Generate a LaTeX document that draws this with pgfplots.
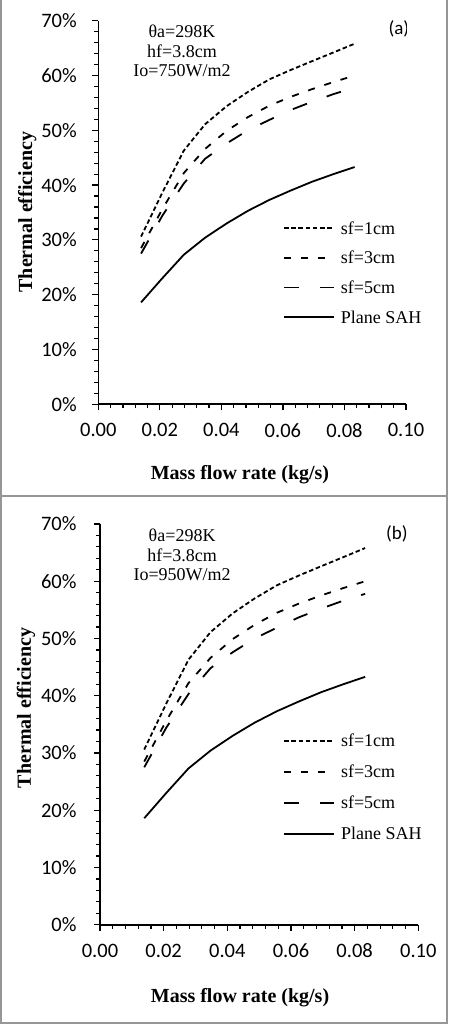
\documentclass[border=0pt]{standalone}
\usepackage{pgfplots}
\usepackage{pgfplotstable}
\pgfplotsset{compat=1.18}
\usepackage{fontspec}
\setmainfont{Liberation Serif}
\newfontfamily\calibri{Carlito}

\definecolor{framegray}{RGB}{150,150,150}

% thermal efficiency (%) against mass flow rate (kg/s)
\pgfplotstableread{
m eff
0.0139 30.6
0.0208 38.6
0.0278 46.3
0.0347 51.1
0.0417 54.4
0.0486 57.0
0.0556 59.3
0.0625 61.0
0.0694 62.6
0.0764 64.2
0.0833 65.8
}\sfone
\pgfplotstableread{
m eff
0.0139 28.5
0.0208 35.6
0.0278 42.2
0.0347 46.6
0.0417 49.9
0.0486 52.4
0.0556 54.5
0.0625 56.1
0.0694 57.5
0.0764 58.8
0.0833 60.0
}\sfthree
\pgfplotstableread{
m eff
0.0139 27.5
0.0208 34.4
0.0278 40.3
0.0347 44.8
0.0417 47.6
0.0486 50.0
0.0556 51.9
0.0625 53.7
0.0694 55.2
0.0764 56.6
0.0833 57.8
}\sffive
\pgfplotstableread{
m eff
0.0139 18.6
0.0208 23.0
0.0278 27.3
0.0347 30.4
0.0417 33.0
0.0486 35.3
0.0556 37.3
0.0625 39.0
0.0694 40.6
0.0764 42.0
0.0833 43.3
}\plane

\pgfplotsset{
  panel/.style={
    scale only axis,
    anchor=south west,
    xmin=0, xmax=0.1, ymin=0, ymax=70,
    axis lines=left,
    axis line style={-, line width=1.6pt},
    xtick={0,0.02,0.04,0.06,0.08,0.1},
    ytick={0,10,20,30,40,50,60,70},
    minor x tick num=4, minor y tick num=4,
    tick align=outside,
    major tick length=6pt, minor tick length=4pt,
    tick style={black, line width=1.2pt},
    /pgf/number format/assume math mode=true,
    xticklabel style={/pgf/number format/fixed, /pgf/number format/fixed zerofill,
      /pgf/number format/precision=2},
    yticklabel={\pgfmathprintnumber{\tick}\%},
    tick label style={font=\calibri\fontsize{20.5}{20.5}\selectfont},
    xlabel={Mass flow rate (kg/s)},
    ylabel={Thermal efficiency},
    legend cell align=left,
    legend image code/.code={\draw[#1] (0pt,0pt) -- (50pt,0pt);},
    legend style={draw=none, fill=none, inner sep=0pt, anchor=north west,
      font=\fontsize{18}{18}\selectfont, column sep=6pt,
      nodes={inner sep=0pt, text height=12pt, text depth=0pt}},
  },
  sfa/.style={black, line width=1.8pt, dash pattern=on 4.5pt off 2.7pt},
  sfb/.style={black, line width=1.8pt, dash pattern=on 7pt off 10pt},
  sfc/.style={black, line width=1.8pt, dash pattern=on 15pt off 21pt},
  sah/.style={black, line width=1.8pt, line join=round},
}

\begin{document}
\begin{tikzpicture}[x=1pt,y=1pt]
\useasboundingbox (0,0) rectangle (450,1028);
\draw[framegray, line width=1.5pt] (1,1028) -- (1,5) -- (447,5) -- (447,1028);
\draw[framegray, line width=1.5pt] (1,532) -- (447,532);

% (a) Io = 750 W/m2
\begin{axis}[panel,
  at={(98.3pt,623.7pt)}, width=307.7pt, height=383.6pt,
  xticklabel style={anchor=center, yshift=-20pt},
  yticklabel style={anchor=east, xshift=-12pt},
  every axis x label/.style={at={([yshift=-70.7pt]axis description cs:0.4605,0)},
    anchor=center, font=\bfseries\fontsize{20}{20}\selectfont},
  every axis y label/.style={at={([xshift=-71pt]axis description cs:0,0.501)},
    rotate=90, anchor=center, font=\bfseries\fontsize{20}{20}\selectfont},
  legend style={at={(rel axis cs:0.600,0.475)}, row sep=17.6pt},
]
\addplot[sfa] table[x=m, y=eff] {\sfone};
\addlegendentry{sf=1cm}
\addplot[sfb] table[x=m, y=eff] {\sfthree};
\addlegendentry{sf=3cm}
\addplot[sfc] table[x=m, y=eff] {\sffive};
\addlegendentry{sf=5cm}
\addplot[sah] table[x=m, y=eff] {\plane};
\addlegendentry{Plane SAH}
\node[font=\fontsize{18}{19.5}\selectfont, align=center] at (rel axis cs:0.272,0.921)
  {θa=298K\\hf=3.8cm\\Io=750W/m2};
\node[font=\calibri\fontsize{19}{19}\selectfont] at (rel axis cs:0.977,0.978) {(a)};
\end{axis}

% (b) Io = 950 W/m2
\begin{axis}[panel,
  at={(100pt,103.3pt)}, width=318.3pt, height=400.7pt,
  xticklabel style={anchor=center, yshift=-20pt},
  yticklabel style={anchor=east, xshift=-14pt},
  every axis x label/.style={at={([yshift=-73.3pt]axis description cs:0.44,0)},
    anchor=center, font=\bfseries\fontsize{20}{20}\selectfont},
  every axis y label/.style={at={([xshift=-74pt]axis description cs:0,0.541)},
    rotate=90, anchor=center, font=\bfseries\fontsize{20}{20}\selectfont},
  legend style={at={(rel axis cs:0.575,0.474)}, row sep=19pt},
]
\addplot[sfa] table[x=m, y=eff] {\sfone};
\addlegendentry{sf=1cm}
\addplot[sfb] table[x=m, y=eff] {\sfthree};
\addlegendentry{sf=3cm}
\addplot[sfc] table[x=m, y=eff] {\sffive};
\addlegendentry{sf=5cm}
\addplot[sah] table[x=m, y=eff] {\plane};
\addlegendentry{Plane SAH}
\node[font=\fontsize{18}{19.5}\selectfont, align=center] at (rel axis cs:0.258,0.9226)
  {θa=298K\\hf=3.8cm\\Io=950W/m2};
\node[font=\calibri\fontsize{19}{19}\selectfont] at (rel axis cs:0.933,0.975) {(b)};
\end{axis}
\end{tikzpicture}
\end{document}
